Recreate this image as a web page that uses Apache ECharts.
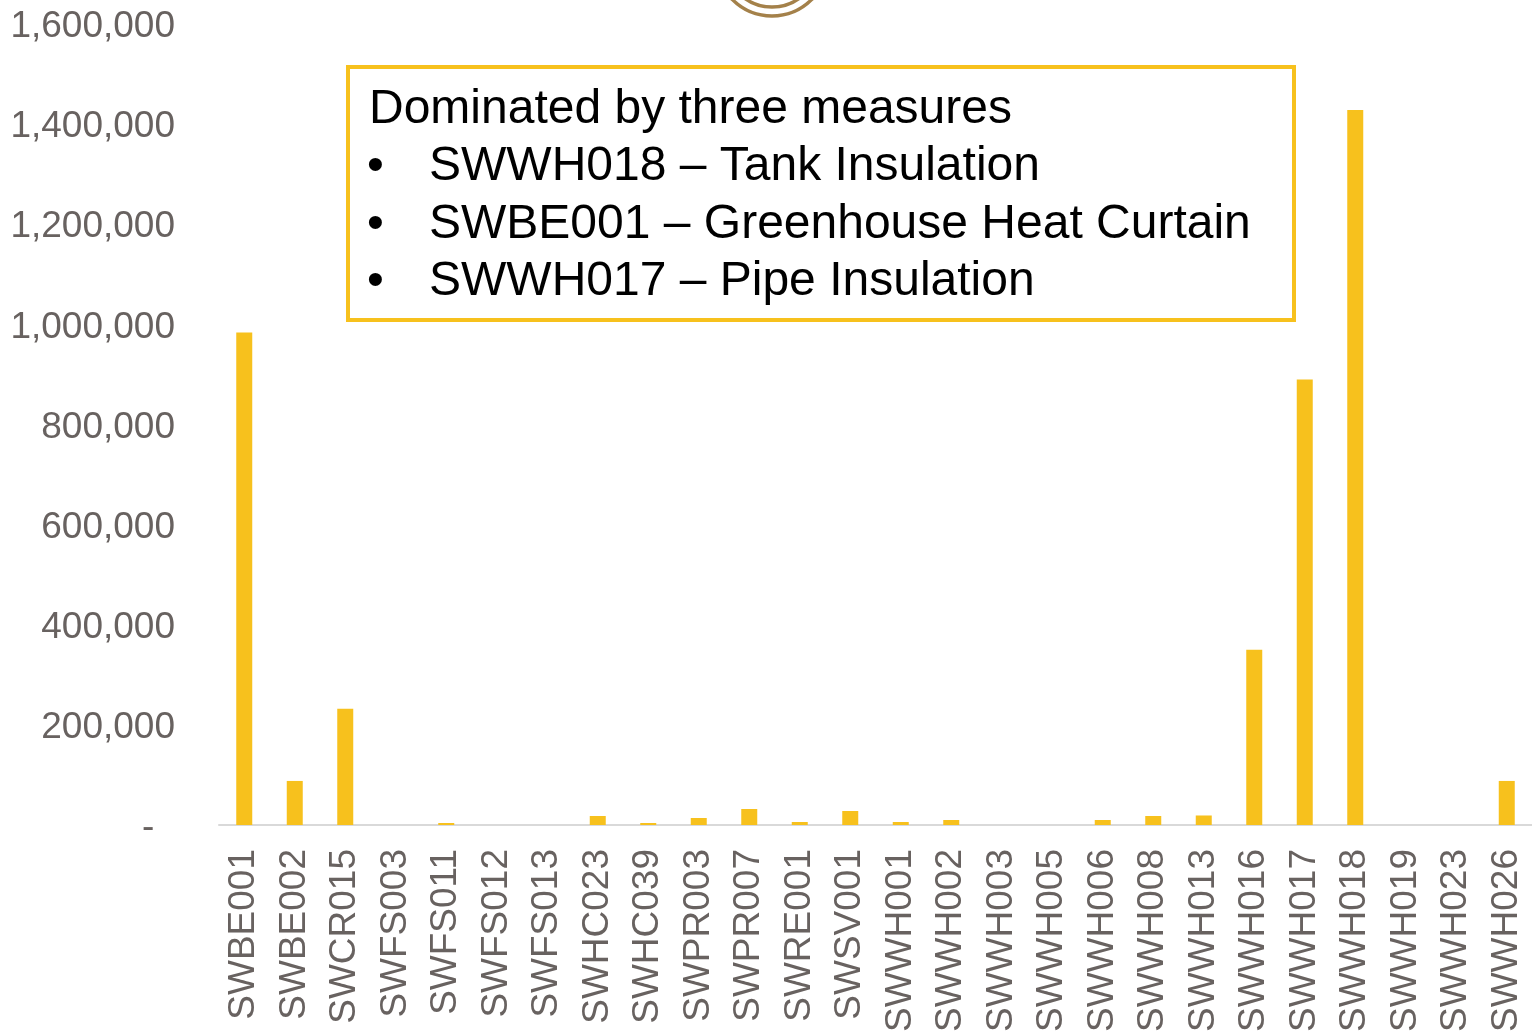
<!DOCTYPE html>
<html>
<head>
<meta charset="utf-8">
<script src="https://cdn.jsdelivr.net/npm/echarts@6/dist/echarts.min.js"></script>
<style>
  html, body { margin: 0; padding: 0; background: #fff; }
  #chart { width: 1532px; height: 1032px; }
</style>
</head>
<body>
<div id="chart"></div>
<script>
// measure codes along the x axis
const categories = [
  'SWBE001', 'SWBE002', 'SWCR015', 'SWFS003', 'SWFS011', 'SWFS012', 'SWFS013',
  'SWHC023', 'SWHC039', 'SWPR003', 'SWPR007', 'SWRE001', 'SWSV001', 'SWWH001',
  'SWWH002', 'SWWH003', 'SWWH005', 'SWWH006', 'SWWH008', 'SWWH013', 'SWWH016',
  'SWWH017', 'SWWH018', 'SWWH019', 'SWWH023', 'SWWH026'
];
const savings = [
  984000, 88000, 232000, 0, 4000, 0, 0,
  18000, 4000, 14000, 32000, 6000, 28000, 6000,
  10000, 0, 0, 10000, 18000, 19000, 350000,
  890000, 1428000, 0, 0, 88000
];
const yTicks = [0, 200000, 400000, 600000, 800000, 1000000, 1200000, 1400000, 1600000];
const noteTitle = 'Dominated by three measures';
const noteItems = [
  'SWWH018 \u2013 Tank Insulation',
  'SWBE001 \u2013 Greenhouse Heat Curtain',
  'SWWH017 \u2013 Pipe Insulation'
];

const font = '"Liberation Sans", Arial, sans-serif';
const yellow = '#f7c11d';
const grey = '#686260';

let chart = echarts.init(document.getElementById('chart'));

// annotation box in the upper middle
let noteGraphics = [
  {
    type: 'rect',
    shape: { x: 348, y: 67, width: 946, height: 253 },
    style: { fill: '#fff', stroke: yellow, lineWidth: 4 },
    z: 10
  },
  {
    type: 'text',
    x: 369, y: 110,
    style: { text: noteTitle, font: '48px ' + font, fill: '#000', textVerticalAlign: 'middle' },
    z: 11
  }
];
noteItems.forEach(function (item, i) {
  let y = 167 + i * 57.5;
  noteGraphics.push({
    type: 'text', x: 367, y: y,
    style: { text: '\u2022', font: '48px ' + font, fill: '#000', textVerticalAlign: 'middle' },
    z: 11
  });
  noteGraphics.push({
    type: 'text', x: 429, y: y,
    style: { text: item, font: '48px ' + font, fill: '#000', textVerticalAlign: 'middle' },
    z: 11
  });
});
// logo rings cut off by the top edge
noteGraphics.push({
  type: 'circle', shape: { cx: 772, cy: -40, r: 56 },
  style: { fill: 'none', stroke: '#a4814a', lineWidth: 3.5 }
});
noteGraphics.push({
  type: 'circle', shape: { cx: 772, cy: -40, r: 47 },
  style: { fill: 'none', stroke: '#a4814a', lineWidth: 3.5 }
});

chart.setOption({
  animation: false,
  backgroundColor: '#fff',
  grid: { left: 219, right: 0, top: 24, bottom: 207, containLabel: false, outerBoundsMode: 'none' },
  xAxis: {
    type: 'category',
    data: categories,
    axisLine: { lineStyle: { color: '#d9d9d9', width: 2 } },
    axisTick: { show: false },
    axisLabel: {
      rotate: 90,
      interval: 0,
      margin: 24,
      color: grey,
      fontFamily: font,
      fontSize: 37
    }
  },
  yAxis: {
    type: 'value',
    min: yTicks[0],
    max: yTicks[yTicks.length - 1],
    interval: yTicks[1] - yTicks[0],
    splitLine: { show: false },
    axisLine: { show: false },
    axisTick: { show: false },
    axisLabel: {
      margin: 44,
      color: grey,
      fontFamily: font,
      fontSize: 37,
      verticalAlign: 'top',
      lineHeight: 6,
      formatter: function (v) {
        if (v === 0) return '-  ';
        return v.toLocaleString('en-US');
      }
    }
  },
  series: [
    {
      type: 'bar',
      data: savings,
      barWidth: 16,
      itemStyle: { color: yellow }
    }
  ],
  graphic: noteGraphics
});
</script>
</body>
</html>
